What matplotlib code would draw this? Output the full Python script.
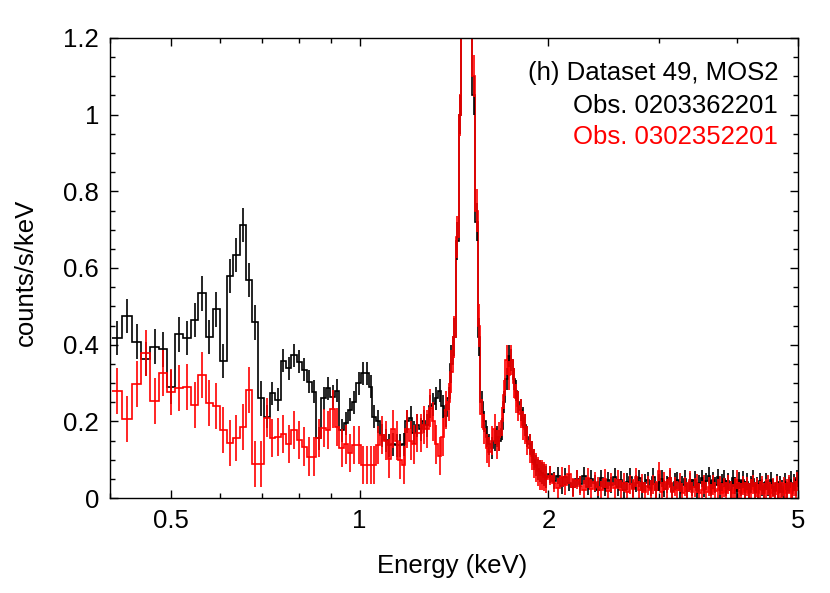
import numpy as np
import matplotlib
matplotlib.use("Agg")
import matplotlib.pyplot as plt
from matplotlib.ticker import FixedLocator, MultipleLocator, FuncFormatter

plt.rcParams['font.family'] = ['Liberation Sans', 'DejaVu Sans']

# ---------------- data ----------------
# channel grid (keV): fine soft-band grid, coarser hard-band grid
soft_lo, soft_hi, hard_hi = 0.4035, 1.9935, 5.0

black_soft = [
    0.417, 0.475, 0.408, 0.362, 0.395, 0.388, 0.290, 0.427, 0.418, 0.464,
    0.534, 0.420, 0.492, 0.357, 0.579, 0.634, 0.712, 0.569, 0.458, 0.260,
    0.212, 0.273, 0.256, 0.358, 0.338, 0.373, 0.356, 0.334, 0.303, 0.277,
    0.156, 0.260, 0.286, 0.264, 0.280, 0.177, 0.195, 0.230, 0.250, 0.300,
    0.325, 0.325, 0.290, 0.212, 0.200, 0.164, 0.151, 0.138, 0.140, 0.138,
    0.138, 0.140, 0.200, 0.210, 0.170, 0.190, 0.180, 0.200, 0.190, 0.240,
    0.245, 0.260, 0.280, 0.240, 0.215, 0.260, 0.350, 0.420, 0.670, 1.000,
    1.500, 2.200, 2.000, 1.400, 1.050, 0.720, 0.420, 0.250, 0.200, 0.160,
    0.140, 0.130, 0.150, 0.160, 0.150, 0.180, 0.250, 0.310, 0.370, 0.360,
    0.310, 0.280, 0.250, 0.230, 0.210, 0.190, 0.160, 0.140, 0.120, 0.100,
    0.085, 0.075, 0.070, 0.065, 0.060, 0.055,
]
red_soft = [
    0.280, 0.205, 0.297, 0.379, 0.253, 0.325, 0.277, 0.286, 0.290, 0.242,
    0.320, 0.248, 0.241, 0.177, 0.143, 0.156, 0.184, 0.282, 0.090, 0.090,
    0.210, 0.156, 0.160, 0.167, 0.141, 0.177, 0.151, 0.134, 0.108, 0.108,
    0.156, 0.182, 0.178, 0.232, 0.186, 0.130, 0.140, 0.117, 0.138, 0.138,
    0.086, 0.086, 0.086, 0.086, 0.138, 0.164, 0.150, 0.103, 0.180, 0.150,
    0.100, 0.086, 0.180, 0.150, 0.140, 0.170, 0.170, 0.190, 0.180, 0.235,
    0.200, 0.140, 0.110, 0.160, 0.230, 0.250, 0.330, 0.420, 0.680, 1.000,
    1.550, 2.300, 2.100, 1.450, 1.100, 0.750, 0.450, 0.220, 0.180, 0.130,
    0.120, 0.150, 0.180, 0.140, 0.160, 0.200, 0.270, 0.360, 0.320, 0.360,
    0.300, 0.260, 0.240, 0.220, 0.190, 0.180, 0.150, 0.130, 0.110, 0.090,
    0.080, 0.070, 0.060, 0.060, 0.055, 0.050,
]
black_hard = [
    0.062, 0.045, 0.058, 0.032, 0.055, 0.040, 0.028, 0.050, 0.036, 0.058,
    0.030, 0.050, 0.038, 0.022, 0.052, 0.026, 0.046, 0.034, 0.055, 0.028,
    0.048, 0.020, 0.042, 0.055, 0.025, 0.038, 0.052, 0.022, 0.040, 0.047,
    0.026, 0.056, 0.020, 0.040, 0.050, 0.024, 0.036, 0.052, 0.018, 0.042,
    0.046, 0.022, 0.035, 0.050, 0.018, 0.042, 0.028, 0.048, 0.020, 0.038,
    0.052, 0.024, 0.044, 0.058, 0.026, 0.046, 0.034, 0.054, 0.020, 0.040,
    0.050, 0.026, 0.044, 0.022, 0.052, 0.032, 0.018, 0.046, 0.026, 0.048,
    0.022, 0.042, 0.018, 0.036, 0.050, 0.020, 0.034, 0.016, 0.044, 0.028,
    0.020, 0.042, 0.026, 0.016, 0.046, 0.028, 0.018, 0.040, 0.022, 0.036,
    0.024, 0.016, 0.042, 0.020, 0.034, 0.048, 0.018, 0.040, 0.026, 0.052,
]
red_hard = [
    0.058, 0.040, 0.026, 0.055, 0.034, 0.062, 0.028, 0.048, 0.032, 0.022,
    0.052, 0.024, 0.042, 0.030, 0.020, 0.050, 0.018, 0.040, 0.026, 0.048,
    0.022, 0.040, 0.016, 0.036, 0.024, 0.054, 0.020, 0.038, 0.016, 0.032,
    0.022, 0.036, 0.020, 0.070, 0.016, 0.042, 0.024, 0.052, 0.016, 0.030,
    0.020, 0.040, 0.014, 0.030, 0.018, 0.046, 0.016, 0.028, 0.038, 0.014,
    0.020, 0.036, 0.016, 0.030, 0.012, 0.034, 0.018, 0.024, 0.032, 0.014,
    0.028, 0.016, 0.036, 0.020, 0.012, 0.026, 0.048, 0.018, 0.014, 0.032,
    0.016, 0.030, 0.014, 0.024, 0.036, 0.016, 0.028, 0.012, 0.020, 0.032,
    0.014, 0.024, 0.034, 0.016, 0.012, 0.028, 0.018, 0.032, 0.014, 0.022,
    0.016, 0.030, 0.014, 0.024, 0.036, 0.018, 0.014, 0.030, 0.020, 0.042,
]

# 1-sigma error half-widths, per energy range
err_bounds = [0.4035, 0.7035, 1.3935, 1.5585, 1.9935, 5.0]
black_err = [0.045, 0.030, 0.050, 0.028, 0.022]
red_err = [0.060, 0.050, 0.055, 0.038, 0.025]

xticks_major = [0.5, 1, 2, 5]
xticks_labels = ['0.5', '1', '2', '5']
xticks_minor = [0.4, 0.6, 0.7, 0.8, 0.9, 3, 4]

title_lines = ["(h) Dataset 49, MOS2", "Obs. 0203362201", "Obs. 0302352201"]

# ---------------- plot ----------------
FS = 18.5
fig = plt.figure(figsize=(8.3, 5.93), dpi=100)
ax = fig.add_axes([110/830, 95/593, 688/830, 460/593])

edges = np.concatenate([
    np.linspace(soft_lo, soft_hi, len(black_soft) + 1),
    np.linspace(soft_hi, hard_hi, len(black_hard) + 1)[1:],
])
centers = 0.5 * (edges[:-1] + edges[1:])
seg = np.clip(np.searchsorted(err_bounds, centers) - 1, 0, len(black_err) - 1)

for vals, errs, col in [(black_soft + black_hard, black_err, 'black'),
                        (red_soft + red_hard, red_err, '#ff0000')]:
    v = np.array(vals)
    e = np.array(errs)[seg]
    ax.stairs(v, edges, color=col, lw=1.2, baseline=None)
    ax.errorbar(centers, v, yerr=e, fmt='none', ecolor=col,
                elinewidth=1.2, capsize=0)

ax.set_xscale('log')
ax.set_xlim(0.4, 5.0)
ax.set_ylim(0, 1.2)
ax.xaxis.set_major_locator(FixedLocator(xticks_major))
ax.xaxis.set_minor_locator(FixedLocator(xticks_minor))
ax.set_xticklabels(xticks_labels)
ax.xaxis.set_minor_formatter(FuncFormatter(lambda x, p: ''))
ax.yaxis.set_major_locator(MultipleLocator(0.2))
ax.yaxis.set_minor_locator(MultipleLocator(0.05))
ax.yaxis.set_major_formatter(FuncFormatter(lambda y, p: '%g' % round(y, 2)))

ax.tick_params(which='both', direction='in', top=True, right=True,
               labelsize=FS, width=1.0)
ax.tick_params(which='major', length=5.5, pad=8)
ax.tick_params(which='minor', length=3.5)
for s in ax.spines.values():
    s.set_linewidth(1.0)

fig.text(452/830, 1 - 566/593, "Energy (keV)", ha='center', va='center', fontsize=FS)
fig.text(26/830, 1 - 272/593, "counts/s/keV", ha='center', va='center',
         rotation=90, fontsize=FS)

ys = [73, 106, 137]
cols = ['black', 'black', '#ff0000']
for t, y, c in zip(title_lines, ys, cols):
    ax.text(778/830, 1 - y/593, t, transform=fig.transFigure, ha='right',
            va='center', fontsize=FS, color=c)

fig.savefig("out.png", dpi=100)
